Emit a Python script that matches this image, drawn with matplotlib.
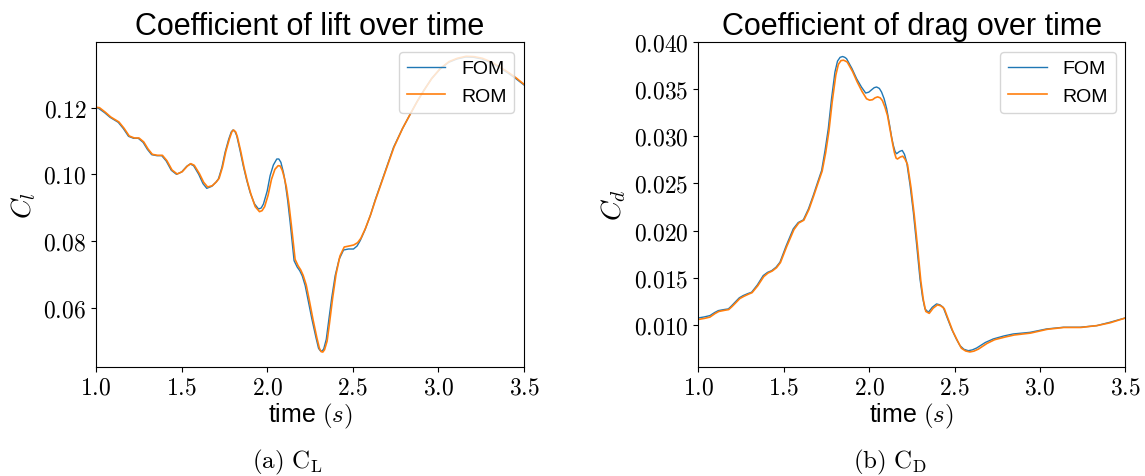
import matplotlib
matplotlib.use("Agg")
import matplotlib.pyplot as plt
from matplotlib.ticker import FuncFormatter

plt.rcParams['font.family'] = ['Liberation Sans', 'DejaVu Sans']
plt.rcParams['mathtext.fontset'] = 'cm'

# ---- Lift data ----
t_cl_fom = [1.0, 1.015, 1.05, 1.082, 1.13, 1.16, 1.19, 1.22, 1.247, 1.275, 1.30, 1.325, 1.355, 1.384,
            1.41, 1.44, 1.47, 1.50, 1.53, 1.55, 1.57, 1.60, 1.625, 1.647, 1.676, 1.70, 1.715, 1.735,
            1.754, 1.775, 1.79, 1.80, 1.812, 1.822, 1.84, 1.86, 1.88, 1.90, 1.925, 1.949, 1.965, 1.978,
            2.0, 2.017, 2.036, 2.056, 2.068, 2.08, 2.095, 2.105, 2.12, 2.134, 2.157, 2.175, 2.19, 2.205,
            2.222, 2.24, 2.261, 2.285, 2.30, 2.31, 2.32, 2.33, 2.345, 2.358, 2.377, 2.397, 2.42, 2.446,
            2.475, 2.504, 2.525, 2.543, 2.57, 2.602, 2.63, 2.66, 2.70, 2.738, 2.79, 2.836, 2.875, 2.914,
            2.96, 3.01, 3.06, 3.108, 3.16, 3.206, 3.255, 3.303, 3.35, 3.40, 3.45, 3.5]
cl_fom = [0.1200, 0.1198, 0.1185, 0.1171, 0.1156, 0.1137, 0.1114, 0.1108, 0.1108, 0.1096, 0.1075, 0.1059, 0.1056, 0.1056,
          0.1040, 0.1012, 0.1000, 0.1007, 0.1024, 0.1031, 0.1026, 0.1000, 0.0972, 0.0958, 0.0964, 0.0976, 0.0986, 0.1020,
          0.1066, 0.1105, 0.1127, 0.1133, 0.1128, 0.1116, 0.1075, 0.1026, 0.0983, 0.0946, 0.0912, 0.0896, 0.0899, 0.0911,
          0.0950, 0.0996, 0.1028, 0.1046, 0.1046, 0.1036, 0.1005, 0.0976, 0.0920, 0.0856, 0.0741, 0.0722, 0.0711, 0.0695,
          0.0666, 0.0620, 0.0566, 0.0510, 0.0478, 0.0471, 0.0470, 0.0476, 0.0505, 0.0556, 0.0630, 0.0696, 0.0745, 0.0773,
          0.0776, 0.0776, 0.0785, 0.0801, 0.0832, 0.0876, 0.0922, 0.0966, 0.1025, 0.1081, 0.1137, 0.1181, 0.1218, 0.1251,
          0.1287, 0.1316, 0.1336, 0.1346, 0.1352, 0.1351, 0.1346, 0.1336, 0.1322, 0.1306, 0.1288, 0.1268]

t_cl_rom = [1.0, 1.02, 1.055, 1.086, 1.134, 1.164, 1.194, 1.224, 1.251, 1.279, 1.304, 1.329, 1.359, 1.388,
            1.414, 1.444, 1.474, 1.504, 1.534, 1.554, 1.574, 1.604, 1.629, 1.652, 1.68, 1.704, 1.719, 1.739,
            1.758, 1.779, 1.794, 1.804, 1.816, 1.826, 1.845, 1.865, 1.885, 1.905, 1.93, 1.955, 1.97, 1.985,
            2.005, 2.025, 2.045, 2.064, 2.076, 2.088, 2.10, 2.112, 2.127, 2.141, 2.163, 2.18, 2.196, 2.21,
            2.228, 2.246, 2.267, 2.29, 2.305, 2.315, 2.325, 2.335, 2.35, 2.363, 2.382, 2.402, 2.425, 2.45,
            2.478, 2.505, 2.528, 2.547, 2.574, 2.605, 2.633, 2.663, 2.703, 2.741, 2.792, 2.838, 2.877, 2.916,
            2.962, 3.012, 3.062, 3.11, 3.162, 3.208, 3.257, 3.305, 3.352, 3.402, 3.452, 3.5]
cl_rom = [0.1201, 0.1200, 0.1186, 0.1172, 0.1157, 0.1138, 0.1115, 0.1109, 0.1109, 0.1097, 0.1076, 0.1060, 0.1057, 0.1057,
          0.1041, 0.1013, 0.1001, 0.1008, 0.1025, 0.1032, 0.1027, 0.1002, 0.0976, 0.0962, 0.0966, 0.0978, 0.0988, 0.1022,
          0.1068, 0.1106, 0.1128, 0.1133, 0.1127, 0.1112, 0.1070, 0.1020, 0.0977, 0.0940, 0.0903, 0.0888, 0.0891, 0.0903,
          0.0937, 0.0985, 0.1015, 0.1026, 0.1025, 0.1012, 0.0990, 0.0962, 0.0910, 0.0848, 0.0745, 0.0726, 0.0713, 0.0697,
          0.0668, 0.0622, 0.0566, 0.0510, 0.0478, 0.0468, 0.0467, 0.0474, 0.0500, 0.0550, 0.0628, 0.0700, 0.0755, 0.0782,
          0.0785, 0.0788, 0.0795, 0.0808, 0.0838, 0.0880, 0.0924, 0.0968, 0.1027, 0.1082, 0.1139, 0.1183, 0.1219, 0.1252,
          0.1288, 0.1318, 0.1338, 0.1348, 0.1354, 0.1353, 0.1348, 0.1338, 0.1324, 0.1308, 0.1290, 0.1270]

# ---- Drag data ----
t_cd_fom = [1.0, 1.035, 1.068, 1.095, 1.117, 1.15, 1.176, 1.195, 1.215, 1.24, 1.263, 1.29, 1.312, 1.345,
            1.38, 1.405, 1.43, 1.455, 1.478, 1.515, 1.556, 1.585, 1.615, 1.645, 1.673, 1.70, 1.722, 1.742,
            1.761, 1.78, 1.80, 1.815, 1.83, 1.845, 1.858, 1.868, 1.90, 1.927, 1.955, 1.98, 1.998, 2.015,
            2.03, 2.044, 2.06, 2.073, 2.088, 2.103, 2.12, 2.132, 2.142, 2.152, 2.161, 2.178, 2.194, 2.207,
            2.22, 2.24, 2.259, 2.28, 2.298, 2.313, 2.327, 2.347, 2.37, 2.395, 2.415, 2.434, 2.46, 2.483,
            2.51, 2.532, 2.555, 2.581, 2.605, 2.63, 2.68, 2.727, 2.79, 2.844, 2.942, 3.039, 3.137, 3.235,
            3.332, 3.41, 3.5]
cd_fom = [0.01071, 0.01082, 0.01096, 0.01128, 0.01149, 0.01160, 0.01167, 0.01200, 0.01238, 0.01285, 0.01309, 0.01330, 0.01344, 0.01420,
          0.01521, 0.01555, 0.01574, 0.01610, 0.01663, 0.01840, 0.02018, 0.02085, 0.02113, 0.02230, 0.02372, 0.02520, 0.02638, 0.02850,
          0.03082, 0.03400, 0.03684, 0.03800, 0.03840, 0.03849, 0.03840, 0.03826, 0.03720, 0.03613, 0.03525, 0.03461, 0.03470, 0.03496,
          0.03518, 0.03525, 0.03510, 0.03471, 0.03400, 0.03294, 0.03120, 0.02990, 0.02904, 0.02840, 0.02816, 0.02840, 0.02851, 0.02810,
          0.02727, 0.02480, 0.02195, 0.01820, 0.01486, 0.01290, 0.01167, 0.01131, 0.01185, 0.01220, 0.01210, 0.01184, 0.01060, 0.00954,
          0.00850, 0.00777, 0.00738, 0.00723, 0.00732, 0.00752, 0.00810, 0.00848, 0.00880, 0.00901, 0.00918, 0.00954, 0.00972, 0.00972,
          0.00989, 0.01025, 0.01071]

t_cd_rom = [1.0, 1.035, 1.068, 1.098, 1.12, 1.153, 1.178, 1.198, 1.218, 1.243, 1.266, 1.293, 1.315, 1.348,
            1.383, 1.408, 1.433, 1.458, 1.481, 1.518, 1.56, 1.588, 1.618, 1.648, 1.676, 1.703, 1.725, 1.746,
            1.765, 1.784, 1.805, 1.82, 1.835, 1.85, 1.862, 1.872, 1.903, 1.93, 1.958, 1.985, 2.003, 2.02,
            2.035, 2.05, 2.065, 2.078, 2.093, 2.108, 2.125, 2.138, 2.148, 2.158, 2.166, 2.182, 2.197, 2.21,
            2.225, 2.245, 2.264, 2.285, 2.303, 2.318, 2.332, 2.352, 2.375, 2.40, 2.42, 2.44, 2.466, 2.49,
            2.517, 2.54, 2.565, 2.59, 2.613, 2.64, 2.69, 2.735, 2.80, 2.85, 2.945, 3.042, 3.14, 3.24,
            3.335, 3.412, 3.5]
cd_rom = [0.01055, 0.01066, 0.01080, 0.01118, 0.01140, 0.01152, 0.01160, 0.01193, 0.01230, 0.01277, 0.01300, 0.01323, 0.01340, 0.01413,
          0.01510, 0.01548, 0.01570, 0.01605, 0.01660, 0.01832, 0.02010, 0.02080, 0.02110, 0.02225, 0.02370, 0.02515, 0.02630, 0.02830,
          0.03060, 0.03370, 0.03650, 0.03765, 0.03805, 0.03810, 0.03800, 0.03790, 0.03690, 0.03580, 0.03480, 0.03400, 0.03385, 0.03390,
          0.03410, 0.03420, 0.03410, 0.03380, 0.03310, 0.03220, 0.03050, 0.02920, 0.02830, 0.02770, 0.02760, 0.02780, 0.02790, 0.02760,
          0.02700, 0.02460, 0.02170, 0.01800, 0.01460, 0.01260, 0.01140, 0.01120, 0.01175, 0.01210, 0.01200, 0.01170, 0.01045, 0.00930,
          0.00830, 0.00750, 0.00720, 0.00710, 0.00718, 0.00740, 0.00800, 0.00840, 0.00870, 0.00890, 0.00910, 0.00950, 0.00970, 0.00970,
          0.00990, 0.01020, 0.01070]

xticks = [1.0, 1.5, 2.0, 2.5, 3.0, 3.5]
cl_yticks = [0.06, 0.08, 0.10, 0.12]
cd_yticks = [0.010, 0.015, 0.020, 0.025, 0.030, 0.035, 0.040]
titles = ["Coefficient of lift over time", "Coefficient of drag over time"]
ylabels = [r"$C_l$", r"$C_d$"]
captions = [r"$\mathrm{(a)\ C_L}$", r"$\mathrm{(b)\ C_D}$"]
legend_labels = ["FOM", "ROM"]

FOM_C = "#1f77b4"
ROM_C = "#ff7f0e"

fig = plt.figure(figsize=(11.45, 4.77), dpi=100)
W, H = 1145, 477
ax1 = fig.add_axes([96 / W, 1 - 367.7 / H, (524 - 96) / W, (367.7 - 43.3) / H])
ax2 = fig.add_axes([698.3 / W, 1 - 367.7 / H, (1125.3 - 698.3) / W, (367.7 - 43.3) / H])

series = [(ax1, t_cl_fom, cl_fom, t_cl_rom, cl_rom, "%.2f", cl_yticks),
          (ax2, t_cd_fom, cd_fom, t_cd_rom, cd_rom, "%.3f", cd_yticks)]

for i, (ax, tf, yf, tr, yr, fmt, yt) in enumerate(series):
    ax.plot(tf, yf, color=FOM_C, lw=1.0, label=legend_labels[0])
    ax.plot(tr, yr, color=ROM_C, lw=1.2, label=legend_labels[1])
    ax.set_xlim(1.0, 3.5)
    ax.set_xticks(xticks)
    ax.set_yticks(yt)
    ax.xaxis.set_major_formatter(FuncFormatter(lambda v, p: r"$%.1f$" % v))
    ax.yaxis.set_major_formatter(FuncFormatter(lambda v, p, f=fmt: r"$" + (f % v) + r"$"))
    ax.tick_params(labelsize=17)
    ax.set_title(titles[i], fontsize=22, pad=6)
    ax.set_xlabel(r"time $(s)$", fontsize=18, labelpad=2)
    ax.set_ylabel(ylabels[i], fontsize=20, labelpad=4)
    ax.legend(loc="upper right", fontsize=14)

ax1.set_ylim(0.0423, 0.1396)
ax2.set_ylim(0.00553, 0.0400)

fig.text(287 / W, 1 - 462 / H, captions[0], ha="center", va="center", fontsize=18)
fig.text(890 / W, 1 - 462 / H, captions[1], ha="center", va="center", fontsize=18)

fig.savefig("out.png", dpi=100)
